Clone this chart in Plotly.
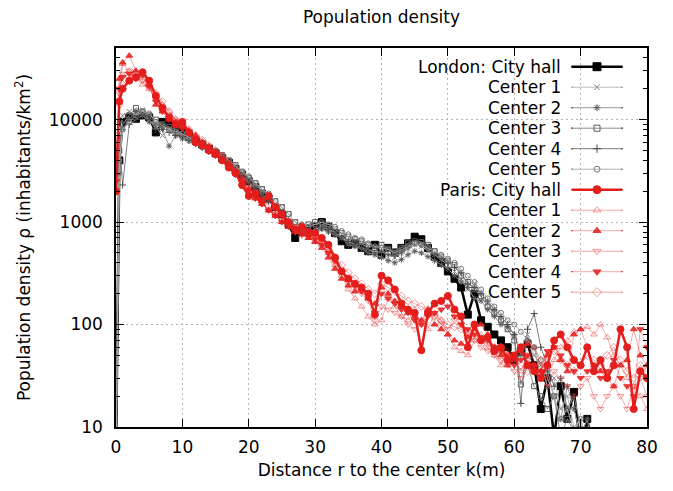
import plotly.graph_objects as go

# ---------------- data ----------------
r_km = [0, 0.5] + list(range(1, 81))

london_city_hall = [5, 4000, 9500, 10500, 10200, 11000, 10500, 7500, 9500, 9000, 8200, 7600,
    6800, 6200, 5700, 5200, 4700, 4200, 3800, 3300, 2900, 2500,
    2200, 1900, 1700, 1400, 1200, 950, 700, 800, 850, 900,
    1000, 900, 780, 650, 600, 620, 560, 520, 600, 480,
    560, 500, 560, 620, 720, 680, 560, 460, 400, 330,
    280, 230, 125, 200, 110, 95, 80, 70, 60, 45,
    55, 65, 40, 15, 30, 8, 25, 12, 22, 6,
    12, 5, None, None, None, None, None, None, None, None]

london_center1 = [5, 6000, 11000, 12000, 11500, 12500, 10000, 8500, 7000, 8000, 7500, 7000,
    6500, 6000, 5500, 5200, 4800, 4300, 3900, 3400, 3000, 2700,
    2300, 2000, 1800, 1500, 1300, 1100, 900, 850, 800, 850,
    900, 850, 800, 700, 650, 600, 620, 550, 500, 520,
    480, 450, 500, 550, 600, 580, 520, 480, 430, 380,
    330, 280, 220, 250, 200, 160, 130, 110, 90, 75,
    60, 80, 50, 40, 25, 30, 15, 20, 10, 12,
    6, 8, 3, None, None, None, None, None, None, None]

london_center2 = [5, 3000, 8000, 10000, 12000, 11000, 9500, 9000, 8000, 5500, 7000, 6500,
    6200, 5800, 5300, 5000, 4600, 4100, 3700, 3200, 2800, 2500,
    2100, 1900, 1600, 1400, 1200, 1000, 850, 800, 750, 800,
    850, 800, 750, 700, 600, 580, 550, 500, 480, 450,
    420, 400, 430, 480, 520, 500, 460, 420, 380, 350,
    300, 260, 230, 180, 170, 140, 120, 100, 95, 80,
    50, 70, 60, 30, 35, 20, 12, 25, 15, 8,
    12, 5, 3, None, None, None, None, None, None, None]

london_center3 = [5, 5000, 9000, 11000, 13000, 12000, 11000, 10000, 9000, 8500, 8000, 7200,
    6800, 6300, 5800, 5300, 4900, 4500, 4000, 3600, 3100, 2700,
    2400, 2100, 1800, 1600, 1400, 1200, 1000, 900, 950, 1000,
    950, 900, 850, 780, 720, 680, 650, 600, 560, 600,
    550, 520, 560, 620, 650, 640, 600, 520, 460, 420,
    380, 300, 260, 220, 190, 150, 130, 110, 90, 70,
    26, 40, 25, 20, 15, 20, 8, 12, 9, 5,
    3, None, None, None, None, None, None, None, None, None]

london_center4 = [5, 7000, 2300, 9000, 10000, 11000, 10000, 8000, 8500, 7500, 7000, 6800,
    6300, 5800, 5400, 4900, 4500, 4000, 3600, 3200, 2800, 2400,
    2100, 1800, 1600, 1350, 1150, 1000, 800, 750, 780, 820,
    880, 850, 780, 720, 650, 600, 560, 540, 500, 520,
    480, 470, 500, 560, 620, 600, 540, 480, 440, 400,
    360, 320, 250, 230, 200, 170, 140, 120, 100, 80,
    17, 90, 128, 60, 40, 25, 30, 15, 20, 10,
    6, 4, None, None, None, None, None, None, None, None]

london_center5 = [5, 4000, 8000, 9500, 11000, 12000, 11500, 9500, 8800, 8000, 7700, 7300,
    6700, 6200, 5700, 5300, 4900, 4400, 4000, 3500, 3100, 2800,
    2400, 2100, 1900, 1600, 1400, 1200, 1000, 950, 900, 950,
    1000, 950, 900, 820, 760, 700, 680, 620, 580, 560,
    540, 500, 540, 580, 620, 600, 560, 520, 480, 440,
    400, 350, 300, 260, 220, 180, 150, 130, 110, 100,
    85, 70, 60, 45, 30, 20, 12, 15, 9, 12,
    7, 5, 3, None, None, None, None, None, None, None]

paris_city_hall = [2000, 15000, 20000, 24000, 26000, 29000, 24000, 17000, 13000, 10500, 9000, 9500,
    7500, 6000, 5600, 5000, 4600, 4000, 3400, 3000, 2300, 1800,
    1900, 1600, 1800, 1400, 1200, 1000, 850, 900, 800, 780,
    700, 600, 450, 330, 280, 250, 230, 200, 125, 300,
    270, 220, 160, 140, 130, 56, 130, 160, 170, 190,
    140, 120, 60, 100, 70, 75, 55, 60, 45, 50,
    60, 40, 35, 30, 40, 70, 80, 60, 45, 40,
    60, 35, 45, 30, 40, 90, 60, 15, 35, 30]

paris_center1 = [3000, 20000, 35000, 30000, 25000, 22000, 20000, 18000, 14000, 12000, 10000, 9000,
    8000, 7000, 6200, 5500, 5000, 4500, 3800, 3200, 2700, 2200,
    1900, 1500, 1300, 1200, 1000, 900, 800, 750, 700, 650,
    600, 500, 380, 300, 220, 180, 150, 120, 100, 110,
    180, 150, 120, 110, 140, 100, 90, 130, 110, 80,
    60, 55, 50, 70, 80, 60, 50, 40, 55, 45,
    35, 50, 60, 40, 30, 45, 60, 70, 85, 90,
    95, 80, 100, 75, 50, 40, 30, 25, 20, 15]

paris_center2 = [3000, 25000, 36000, 42000, 30000, 28000, 22000, 14000, 12000, 10000, 9500, 8500,
    7800, 7000, 6000, 5500, 4800, 4200, 3700, 3100, 2600, 2100,
    1700, 1500, 1300, 1150, 1000, 900, 820, 760, 700, 640,
    560, 450, 350, 280, 240, 210, 220, 180, 160, 230,
    200, 170, 150, 130, 120, 110, 140, 100, 90, 80,
    70, 65, 75, 90, 100, 80, 60, 50, 40, 45,
    55, 65, 40, 35, 50, 60, 45, 35, 80, 90,
    60, 40, 35, 30, 25, 40, 45, 90, 50, 40]

paris_center3 = [2500, 18000, 28000, 30000, 27000, 24000, 20000, 16000, 13000, 11000, 9800, 8800,
    7600, 6600, 6000, 5300, 4700, 4100, 3600, 3000, 2500, 2100,
    1800, 1550, 1350, 1200, 1050, 950, 850, 800, 750, 700,
    620, 520, 400, 320, 260, 230, 200, 170, 110, 150,
    140, 130, 120, 100, 90, 110, 130, 120, 100, 90,
    110, 100, 80, 70, 60, 55, 50, 45, 40, 35,
    30, 45, 40, 30, 25, 35, 30, 25, 20, 25,
    30, 20, 15, 20, 25, 20, 15, 25, 30, 20]

paris_center4 = [2500, 20000, 26000, 28000, 25000, 27000, 21000, 15000, 12000, 10000, 9000, 8200,
    7400, 6500, 5800, 5100, 4500, 4000, 3500, 2900, 2400, 2000,
    1700, 1500, 1300, 1150, 1000, 900, 800, 780, 720, 680,
    600, 500, 420, 330, 280, 240, 210, 180, 130, 200,
    180, 160, 140, 130, 110, 100, 120, 130, 140, 150,
    120, 100, 90, 80, 75, 70, 60, 55, 50, 40,
    45, 50, 40, 35, 55, 60, 50, 40, 35, 30,
    35, 40, 30, 35, 45, 30, 25, 20, 90, 60]

paris_center5 = [2000, 14000, 22000, 26000, 28000, 25000, 22000, 18000, 15000, 12000, 10000, 9000,
    8000, 7000, 6300, 5600, 5000, 4400, 3900, 3300, 2800, 2300,
    2000, 1700, 1450, 1250, 1100, 980, 880, 820, 760, 720,
    650, 560, 450, 380, 320, 280, 250, 220, 200, 250,
    230, 210, 190, 170, 160, 150, 140, 120, 110, 100,
    95, 90, 85, 80, 70, 65, 60, 55, 50, 45,
    40, 35, 40, 45, 50, 55, 45, 40, 35, 40,
    50, 45, 40, 50, 60, 45, 35, 30, 40, 35]

series_labels = ["London: City hall", "Center 1", "Center 2", "Center 3", "Center 4", "Center 5",
                 "Paris: City hall", "Center 1", "Center 2", "Center 3", "Center 4", "Center 5"]
series_values = [london_city_hall, london_center1, london_center2, london_center3, london_center4,
                 london_center5, paris_city_hall, paris_center1, paris_center2, paris_center3,
                 paris_center4, paris_center5]

y_tick_vals = [10, 100, 1000, 10000]
y_tick_text = ["10", "100", "1000", "10000"]
x_tick_vals = [0, 10, 20, 30, 40, 50, 60, 70, 80]

# ---------------- styles ----------------
RED = "rgb(228,30,28)"
PINK = "rgba(228,30,28,0.38)"
styles = [
    dict(color="black", width=2.5, symbol="square", size=7, mcolor="black"),
    dict(color="#bcbcbc", width=1, symbol="x-thin-open", size=5, mcolor="#8a8a8a"),
    dict(color="#999999", width=1, symbol="asterisk-open", size=5, mcolor="#5a5a5a"),
    dict(color="#8a8a8a", width=1, symbol="square-open", size=5, mcolor="#5a5a5a"),
    dict(color="#7c7c7c", width=1, symbol="cross-thin-open", size=5, mcolor="#4a4a4a"),
    dict(color="#b0b0b0", width=1, symbol="circle-open", size=5, mcolor="#777777"),
    dict(color=RED, width=2.5, symbol="circle", size=7, mcolor=RED),
    dict(color=PINK, width=1, symbol="triangle-up-open", size=6, mcolor="rgba(228,30,28,0.45)"),
    dict(color=PINK, width=1, symbol="triangle-up", size=6, mcolor="rgba(228,30,28,0.85)"),
    dict(color=PINK, width=1, symbol="triangle-down-open", size=6, mcolor="rgba(228,30,28,0.45)"),
    dict(color=PINK, width=1, symbol="triangle-down", size=6, mcolor="rgba(228,30,28,0.85)"),
    dict(color=PINK, width=1, symbol="diamond-open", size=6, mcolor="rgba(228,30,28,0.45)"),
]

FONT = "DejaVu Sans"
FS = 17
OFF = 8                      # the page body adds an 8 px margin around the figure
W, H = 673 - OFF, 491 - OFF
# plot area in screenshot pixels: x 116..647, y 48..427
L, T = 116 - OFF, 48 - OFF
R, B = 673 - 647, 491 - 427
PW, PH = W - L - R, H - T - B
GRID = dict(showgrid=True, gridcolor="#b4b4b4", griddash="2px,3px", gridwidth=1)

fig = go.Figure()
for vals, st in zip(series_values, styles):
    fig.add_trace(go.Scatter(
        x=r_km, y=vals, mode="lines+markers",
        line=dict(color=st["color"], width=st["width"]),
        marker=dict(symbol=st["symbol"], size=st["size"], color=st["mcolor"],
                    line=dict(width=1, color=st["mcolor"])),
        showlegend=False, connectgaps=False, hoverinfo="skip"))

# ---------------- gnuplot-style key (text left, sample right) ----------------
def px2paper_x(px):          # px in screenshot coordinates
    return (px - 116) / PW

def py2paper_y(py):
    return (427 - py) / PH

annotations = []
for i, (lab, st) in enumerate(zip(series_labels, styles)):
    py = 66.7 + 20.5 * i
    yp = py2paper_y(py)
    annotations.append(dict(text=lab, x=px2paper_x(563), y=yp, xref="paper", yref="paper",
                            xanchor="right", yanchor="middle", showarrow=False,
                            font=dict(family=FONT, size=FS, color="black")))
    fig.add_trace(go.Scatter(
        x=[px2paper_x(572), px2paper_x(597), px2paper_x(622)], y=[yp, yp, yp],
        xaxis="x2", yaxis="y2", mode="lines+markers", cliponaxis=False,
        line=dict(color=st["color"], width=st["width"]),
        marker=dict(symbol=st["symbol"], size=[1, st["size"] + 1, 1], color=st["mcolor"],
                    opacity=1, line=dict(width=1, color=st["mcolor"])),
        showlegend=False, hoverinfo="skip"))

minor_vals = [m * 10 ** e for e in range(1, 5) for m in range(2, 10) if m * 10 ** e <= 50000]

fig.update_layout(
    width=W, height=H,
    margin=dict(l=L, r=R, t=T, b=B, autoexpand=False),
    paper_bgcolor="white", plot_bgcolor="white",
    font=dict(family=FONT, size=FS, color="black"),
    title=dict(text="Population density", x=(L + PW / 2) / W, xanchor="center",
               y=1 - (17 - OFF) / H, yanchor="middle", font=dict(family=FONT, size=FS)),
    xaxis=dict(range=[0, 80], tickvals=x_tick_vals, ticks="inside", ticklen=8, tickwidth=1,
               tickcolor="black", mirror="allticks", showline=True, linecolor="black",
               linewidth=1.5, zeroline=False, ticklabelstandoff=4, automargin=False,
               title=dict(text="Distance r to the center k(m)", standoff=8,
                          font=dict(family=FONT, size=FS)), **GRID),
    yaxis=dict(type="log", range=[1, 4.69897], tickvals=y_tick_vals, ticktext=y_tick_text,
               ticks="inside", ticklen=8, tickwidth=1, tickcolor="black", mirror="allticks",
               showline=True, linecolor="black", linewidth=1.5, zeroline=False,
               ticklabelstandoff=8, automargin=False,
               minor=dict(tickvals=minor_vals, ticks="inside", ticklen=4, tickcolor="black",
                          showgrid=False),
               title=dict(text="Population density ρ (inhabitants/km<sup>2</sup>)", standoff=14,
                          font=dict(family=FONT, size=FS)), **GRID),
    xaxis2=dict(overlaying="x", range=[0, 1], visible=False, fixedrange=True),
    yaxis2=dict(overlaying="y", range=[0, 1], visible=False, fixedrange=True),
    annotations=annotations,
    shapes=[dict(type="rect", xref="paper", yref="paper",
                 x0=px2paper_x(430), x1=px2paper_x(634), y0=py2paper_y(302), y1=py2paper_y(56),
                 fillcolor="white", line=dict(width=0), layer="between")],
)

fig.write_html("out.html")
